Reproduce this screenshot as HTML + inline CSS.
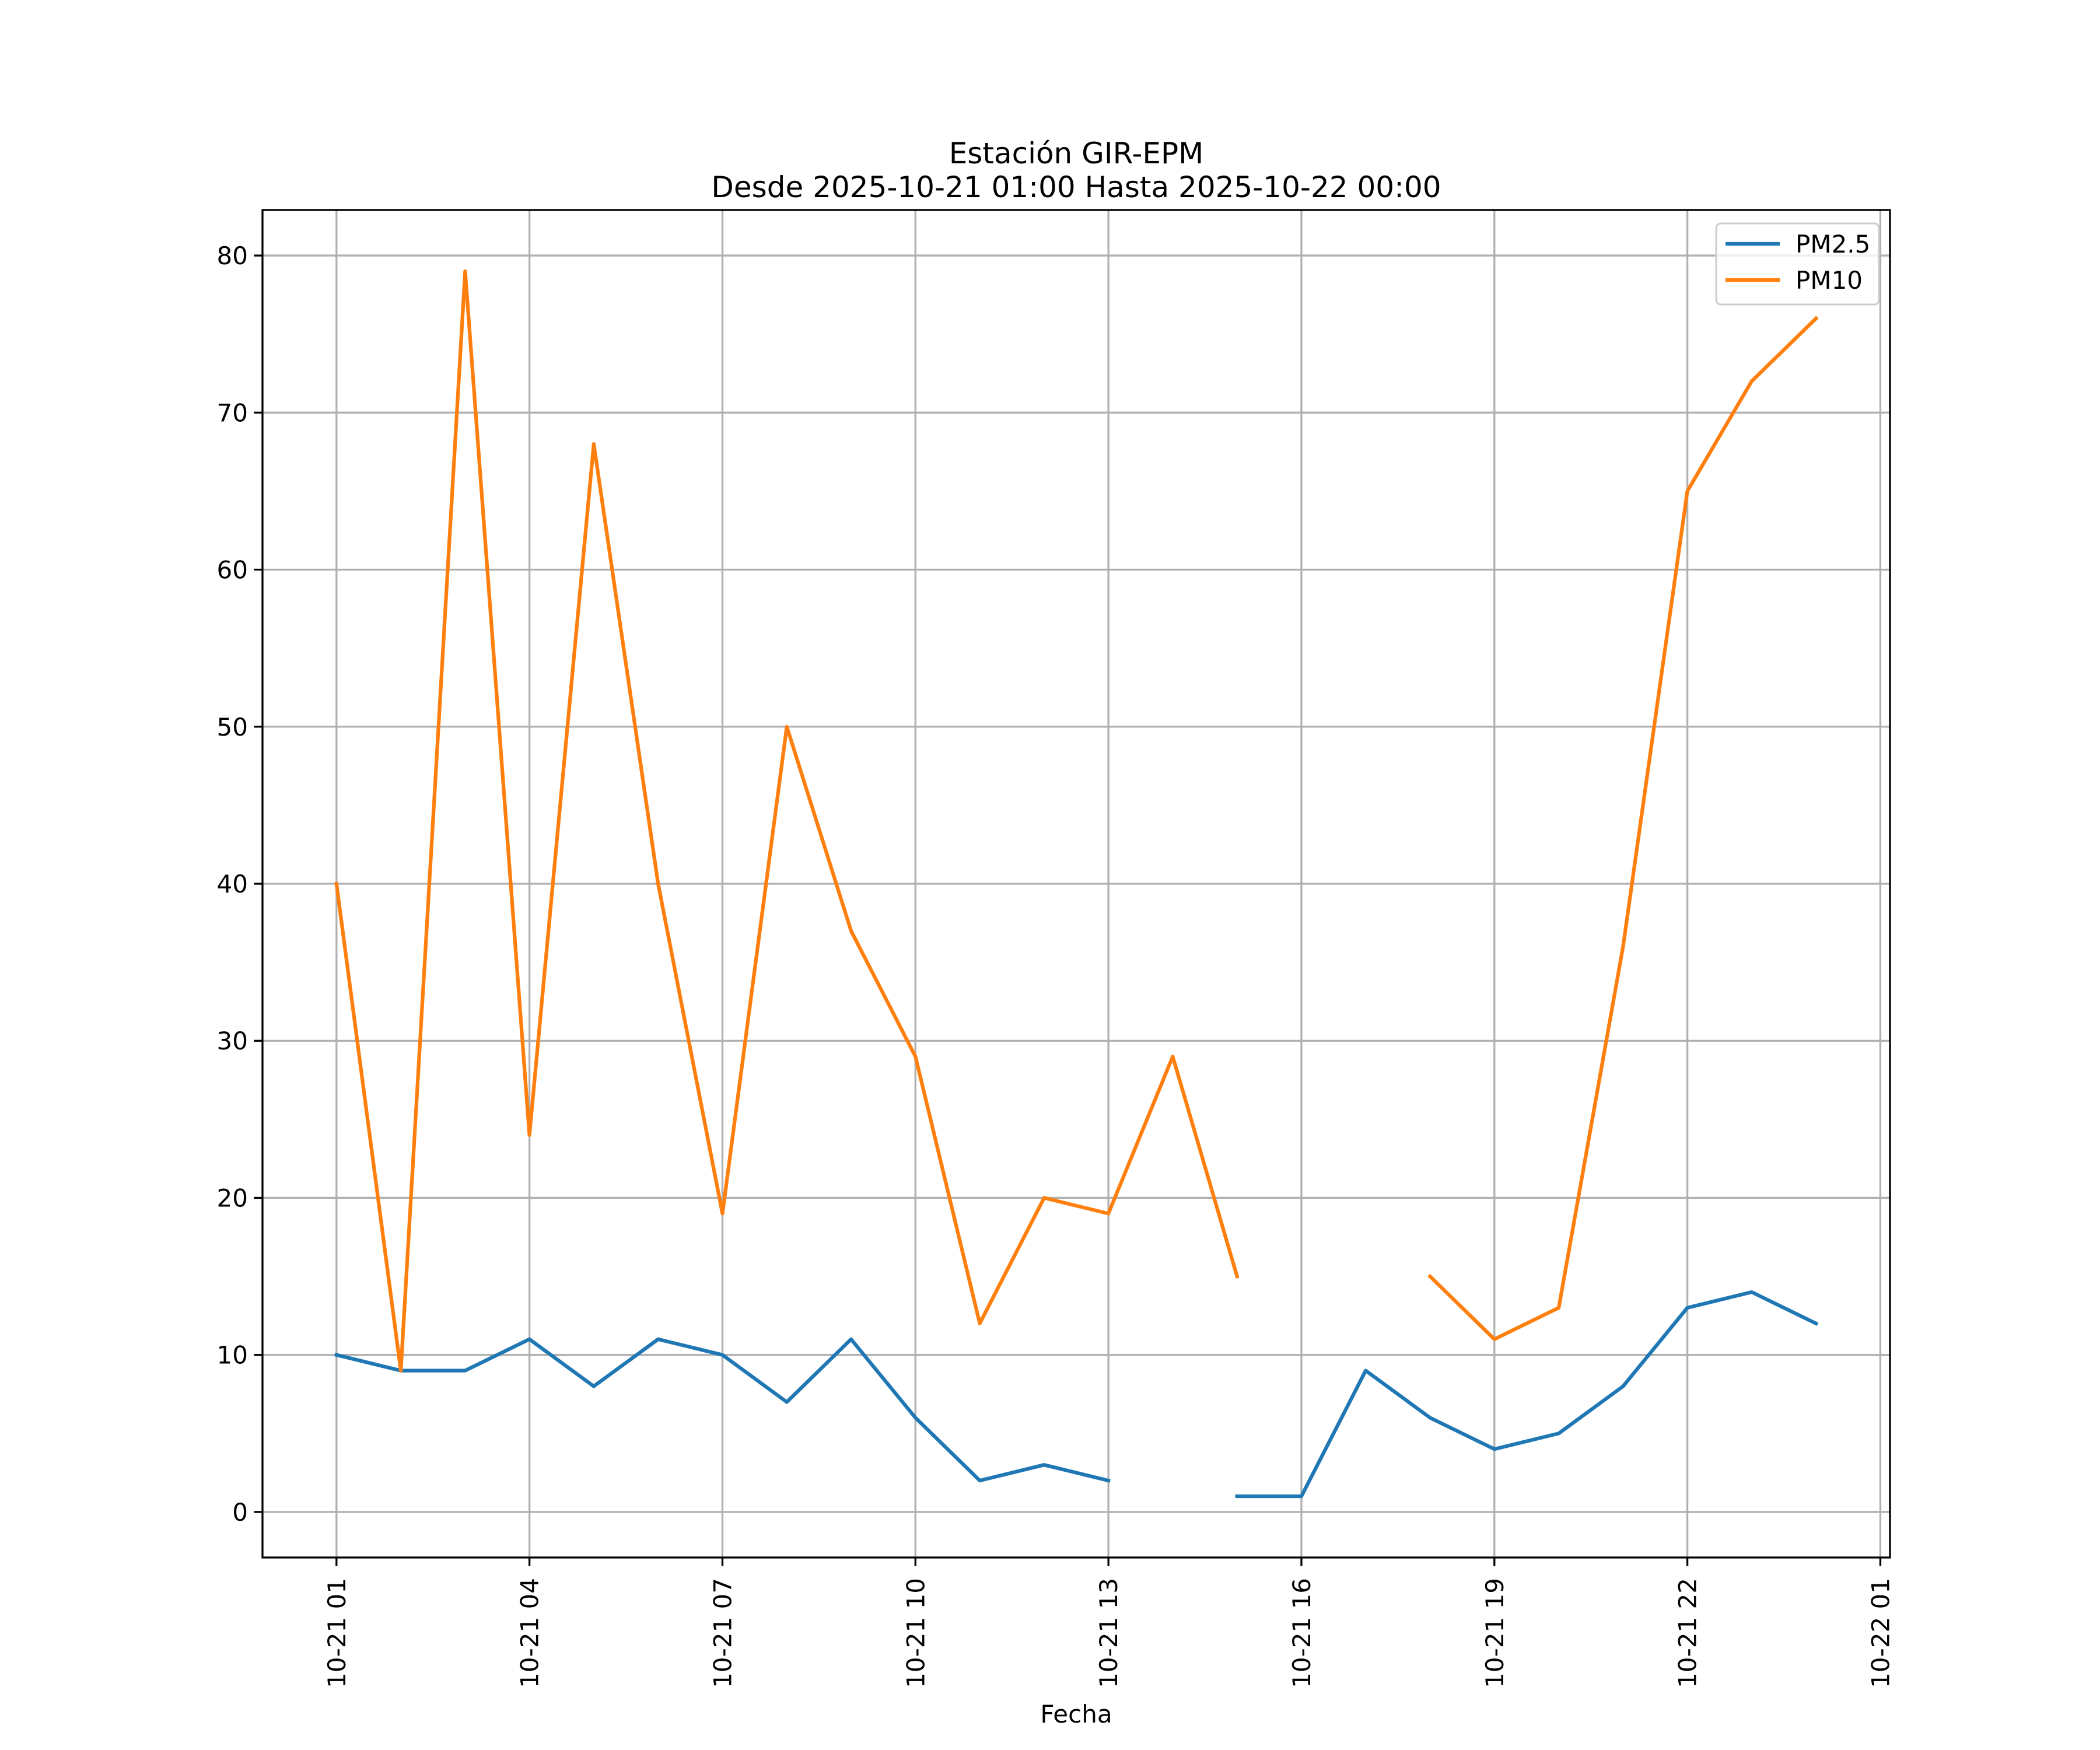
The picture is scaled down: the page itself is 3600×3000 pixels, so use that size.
<!DOCTYPE html>
<html><head><meta charset="utf-8"><style>body{margin:0;background:#fff}svg{display:block}text{font-family:"DejaVu Sans","Liberation Sans",sans-serif;fill:#000}</style></head>
<body>
<svg id="chart" width="3600" height="3000"></svg>
<script>
const hours=[1,2,3,4,5,6,7,8,9,10,11,12,13,14,15,16,17,18,19,20,21,22,23,24];
const pm25=[10,9,9,11,8,11,10,7,11,6,2,3,2,null,1,1,9,6,4,5,8,13,14,12];
const pm10=[40,9,79,24,68,40,19,50,37,29,12,20,19,29,15,null,null,15,11,13,36,65,72,76];
const yTicks=[0,10,20,30,40,50,60,70,80];
const xTickHours=[1,4,7,10,13,16,19,22,25];
const xTickLabels=["10-21 01","10-21 04","10-21 07","10-21 10","10-21 13","10-21 16","10-21 19","10-21 22","10-22 01"];
const L=450,R=3240,T=360,B=2670;
const x0=-0.15,x1=25.15,y0=-2.9,y1=82.9;
const xs=h=>L+(h-x0)/(x1-x0)*(R-L);
const ys=v=>B-(v-y0)/(y1-y0)*(B-T);
const svg=document.getElementById('chart');const NS='http://www.w3.org/2000/svg';
function mk(t,a,p){const e=document.createElementNS(NS,t);for(const k in a)e.setAttribute(k,a[k]);(p||svg).appendChild(e);return e;}
yTicks.forEach(v=>{const g=mk('line',{x1:L,x2:R,y1:ys(v),y2:ys(v),stroke:'#b0b0b0','stroke-width':3.3});


const t=mk('line',{x1:L-14.6,x2:L,y1:ys(v),y2:ys(v),stroke:'#000','stroke-width':3.3});


const tx=mk('text',{x:L-25,y:ys(v)+15,'text-anchor':'end','font-size':42});tx.textContent=v;

});
xTickHours.forEach((h,i)=>{const g=mk('line',{x1:xs(h),x2:xs(h),y1:T,y2:B,stroke:'#b0b0b0','stroke-width':3.3});


const t=mk('line',{x1:xs(h),x2:xs(h),y1:B,y2:B+14.6,stroke:'#000','stroke-width':3.3});


const tx=mk('text',{x:0,y:0,'text-anchor':'end','font-size':42,transform:`translate(${xs(h)+15},${B+35}) rotate(-90)`});tx.textContent=xTickLabels[i];

});
function series(vals,color,name){let d='',pen=false;vals.forEach((v,i)=>{if(v===null){pen=false;return;}d+=(pen?'L':'M')+xs(hours[i]).toFixed(1)+','+ys(v).toFixed(1);pen=true;});
const p=mk('path',{d:d,fill:'none',stroke:color,'stroke-width':6.25,'stroke-linejoin':'round','stroke-linecap':'square'});

}
series(pm25,'#1f77b4','pm25-line');
series(pm10,'#ff7f0e','pm10-line');
const fr=mk('rect',{x:L,y:T,width:R-L,height:B-T,fill:'none',stroke:'#000','stroke-width':3.3});


</script>
<div style="position:absolute;left:0;top:0;width:3600px;height:3000px;pointer-events:none">
<svg width="3600" height="3000" style="position:absolute;left:0;top:0">
<text x="1845" y="280" text-anchor="middle" font-size="50">Estación GIR-EPM</text>
<text x="1845" y="338" text-anchor="middle" font-size="50">Desde 2025-10-21 01:00 Hasta 2025-10-22 00:00</text>
<text x="1845" y="2953" text-anchor="middle" font-size="42">Fecha</text>
<g>
<rect x="2942" y="383" width="279" height="139" rx="8" fill="#fff" fill-opacity="0.8" stroke="#ccc" stroke-width="3"/>
<line x1="2958" x2="3051" y1="418" y2="418" stroke="#1f77b4" stroke-width="6.25"/>
<text x="3078" y="433" font-size="42">PM2.5</text>
<line x1="2958" x2="3051" y1="480" y2="480" stroke="#ff7f0e" stroke-width="6.25"/>
<text x="3078" y="495" font-size="42">PM10</text>
</g>
</svg></div>
</body></html>
